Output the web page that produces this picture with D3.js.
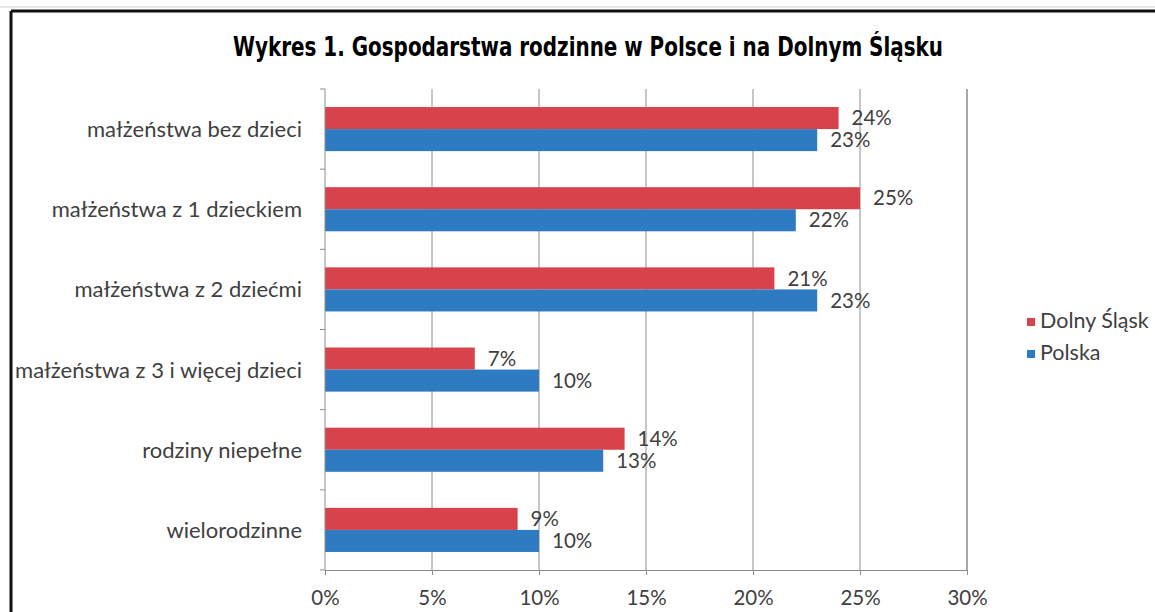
<!DOCTYPE html>
<html>
<head>
<meta charset="utf-8">
<title>Gospodarstwa rodzinne</title>
<script src="https://cdn.jsdelivr.net/npm/d3@7"></script>
<style>
  html, body { margin: 0; padding: 0; background: #fff; overflow: hidden; }
  svg { display: block; }
</style>
</head>
<body>
<script>
// chart data
var categories = ["małżeństwa bez dzieci", "małżeństwa z 1 dzieckiem", "małżeństwa z 2 dziećmi",
                  "małżeństwa z 3 i więcej dzieci", "rodziny niepełne", "wielorodzinne"];
var seriesNames = ["Dolny Śląsk", "Polska"];
var dolnySlask = [0.24, 0.25, 0.21, 0.07, 0.14, 0.09];
var polska = [0.23, 0.22, 0.23, 0.10, 0.13, 0.10];
var xTicks = [0, 0.05, 0.10, 0.15, 0.20, 0.25, 0.30];

var titleText = "Wykres 1. Gospodarstwa rodzinne w Polsce i na Dolnym Śląsku";

var W = 1155, H = 612;
var colors = ["#d8424b", "#2e7bc2"];
var textColor = "#404040";
var labelFont = "Lato, 'Open Sans', sans-serif";

var svg = d3.select("body").append("svg")
    .attr("width", W)
    .attr("height", H);

// frame of the figure
svg.append("line").attr("x1", 0).attr("x2", W).attr("y1", 7).attr("y2", 7)
    .attr("stroke", "#d0d0d0").attr("stroke-width", 1);
svg.append("line").attr("x1", 11).attr("x2", W).attr("y1", 11).attr("y2", 11)
    .attr("stroke", "#111").attr("stroke-width", 3);
svg.append("line").attr("x1", 11).attr("x2", 11).attr("y1", 11).attr("y2", H)
    .attr("stroke", "#111").attr("stroke-width", 3);

// title
svg.append("text")
    .attr("x", 588)
    .attr("y", 48)
    .attr("text-anchor", "middle")
    .attr("dominant-baseline", "middle")
    .attr("font-family", "'Liberation Sans Narrow', 'DejaVu Sans Condensed', sans-serif")
    .attr("font-weight", "bold")
    .attr("font-size", "27px")
    .attr("textLength", 710)
    .attr("lengthAdjust", "spacingAndGlyphs")
    .attr("fill", "#000")
    .text(titleText);

// scales
var x = d3.scaleLinear().domain([0, 0.30]).range([325, 967]);
var y = d3.scaleBand().domain(categories).range([89, 570]);
var bw = y.bandwidth();
var inner = d3.scaleBand().domain(seriesNames).range([bw * 0.225, bw * 0.775]);

// gridlines
svg.append("g").selectAll("line")
    .data(xTicks.slice(1))
    .enter().append("line")
    .attr("x1", function(d) { return x(d); })
    .attr("x2", function(d) { return x(d); })
    .attr("y1", y.range()[0])
    .attr("y2", y.range()[1])
    .attr("stroke", function(d, i) { return i == xTicks.length - 2 ? "#a8a8a8" : "#8c8c8c"; })
    .attr("stroke-width", function(d, i) { return i == xTicks.length - 2 ? 2 : 1; });

// bars
var rows = categories.map(function(c, i) { return {cat: c, values: [dolnySlask[i], polska[i]]}; });

var group = svg.append("g").selectAll("g")
    .data(rows)
    .enter().append("g")
    .attr("transform", function(d) { return "translate(0," + y(d.cat) + ")"; });

group.selectAll("rect")
    .data(function(d) { return d.values.map(function(v, i) { return {name: seriesNames[i], v: v, i: i}; }); })
    .enter().append("rect")
    .attr("x", x(0))
    .attr("y", function(d) { return inner(d.name); })
    .attr("width", function(d) { return x(d.v) - x(0); })
    .attr("height", inner.bandwidth())
    .attr("fill", function(d) { return colors[d.i]; });

// data labels
group.selectAll("text")
    .data(function(d) { return d.values.map(function(v, i) { return {name: seriesNames[i], v: v}; }); })
    .enter().append("text")
    .attr("x", function(d) { return x(d.v) + 13; })
    .attr("y", function(d) { return inner(d.name) + inner.bandwidth() / 2 + 2; })
    .attr("dominant-baseline", "middle")
    .attr("font-family", labelFont)
    .attr("font-size", "20.5px")
    .attr("fill", textColor)
    .text(function(d) { return d3.format(".0%")(d.v); });

// y axis: line, ticks between categories, labels
svg.append("line")
    .attr("x1", x(0)).attr("x2", x(0))
    .attr("y1", y.range()[0]).attr("y2", y.range()[1])
    .attr("stroke", "#8c8c8c");

var bounds = categories.map(function(c) { return y(c); }).concat([y.range()[1]]);
svg.append("g").selectAll("line")
    .data(bounds)
    .enter().append("line")
    .attr("x1", x(0) - 5).attr("x2", x(0))
    .attr("y1", function(d) { return d; }).attr("y2", function(d) { return d; })
    .attr("stroke", "#8c8c8c");

var yAxis = svg.append("g")
    .attr("transform", "translate(" + x(0) + ",0)")
    .call(d3.axisLeft(y).tickSize(0).tickPadding(23));
yAxis.select(".domain").remove();
yAxis.selectAll("text")
    .attr("font-family", labelFont)
    .attr("font-size", "22px")
    .attr("dy", "0.36em")
    .attr("fill", textColor);

// x axis
var xAxis = svg.append("g")
    .attr("transform", "translate(0," + y.range()[1] + ")")
    .call(d3.axisBottom(x).tickValues(xTicks).tickFormat(d3.format(".0%")).tickSize(5).tickPadding(15));
xAxis.select(".domain").attr("stroke", "#8c8c8c");
xAxis.selectAll(".tick line").attr("stroke", "#8c8c8c");
xAxis.selectAll("text")
    .attr("font-family", labelFont)
    .attr("font-size", "20.5px")
    .attr("fill", textColor);

// legend
var legend = svg.append("g").selectAll("g")
    .data(seriesNames)
    .enter().append("g")
    .attr("transform", function(d, i) { return "translate(1027," + (322 + i * 32) + ")"; });
legend.append("rect")
    .attr("x", 0).attr("y", -4)
    .attr("width", 8).attr("height", 8)
    .attr("fill", function(d, i) { return colors[i]; });
legend.append("text")
    .attr("x", 13)
    .attr("y", 1)
    .attr("dominant-baseline", "middle")
    .attr("font-family", labelFont)
    .attr("font-size", "21.5px")
    .attr("fill", textColor)
    .text(function(d) { return d; });
</script>
</body>
</html>
